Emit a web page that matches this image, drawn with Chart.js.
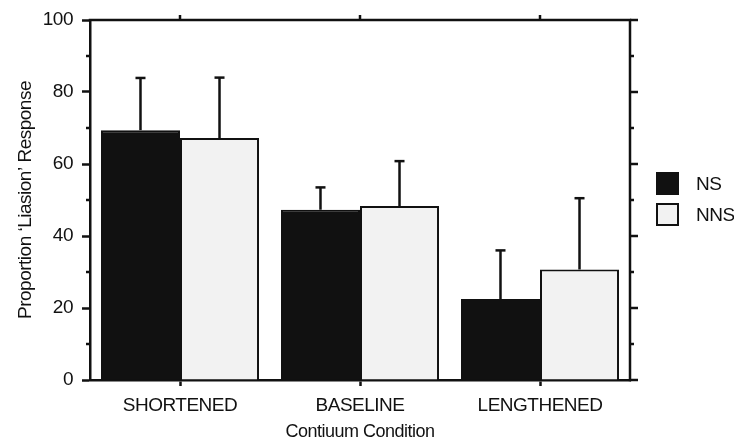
<!DOCTYPE html>
<html>
<head>
<meta charset="utf-8">
<script src="https://cdn.jsdelivr.net/npm/chart.js@4"></script>
<style>
  html, body { margin: 0; padding: 0; background: #fff; }
  #wrap { width: 734px; height: 441px; }
</style>
</head>
<body>
<div id="wrap"><canvas id="chart" width="734" height="441"></canvas></div>
<script>
// Response proportions per continuum condition, with upper error bars
const categories = ['SHORTENED', 'BASELINE', 'LENGTHENED'];
const seriesNames = ['NS', 'NNS'];
const nsValues = [69.4, 47.3, 22.5];
const nnsValues = [67.2, 48.3, 30.7];
const nsErrors = [14.5, 6.2, 13.5];
const nnsErrors = [16.8, 12.5, 19.8];
const yTicks = [0, 20, 40, 60, 80, 100];
const yMinorTicks = [10, 30, 50, 70, 90];

const ink = '#111111';
const family = "'Liberation Sans', Arial, Helvetica, sans-serif";
const fills = ['#111111', '#f2f2f2'];
const tightText = '-0.5px';

function seg(ctx, x1, y1, x2, y2) {
  ctx.beginPath();
  ctx.moveTo(x1, y1);
  ctx.lineTo(x2, y2);
  ctx.stroke();
}

// Slightly condensed lettering for all canvas text
const tightPlugin = {
  id: 'tightPlugin',
  beforeInit(chart) { chart.ctx.letterSpacing = tightText; },
  beforeDraw(chart) { chart.ctx.letterSpacing = tightText; }
};

// Error bars, closed frame, minor ticks and the side legend
const framePlugin = {
  id: 'framePlugin',
  afterDatasetsDraw(chart) {
    const { ctx, scales: { y } } = chart;
    ctx.save();
    ctx.strokeStyle = ink;
    ctx.lineWidth = 2.5;
    chart.data.datasets.forEach((ds, di) => {
      const meta = chart.getDatasetMeta(di);
      meta.data.forEach((bar, i) => {
        const yTop = y.getPixelForValue(ds.data[i] + ds.errors[i]);
        seg(ctx, bar.x, bar.y, bar.x, yTop);
        seg(ctx, bar.x - 5, yTop, bar.x + 5, yTop);
      });
    });
    ctx.restore();
  },
  afterDraw(chart) {
    const { ctx, chartArea: { left, right, top, bottom }, scales: { x, y } } = chart;
    ctx.save();
    ctx.strokeStyle = ink;
    ctx.lineWidth = 2.5;
    ctx.lineCap = 'butt';
    // top and right sides of the frame
    ctx.beginPath();
    ctx.moveTo(left - 1.25, top);
    ctx.lineTo(right, top);
    ctx.lineTo(right, bottom + 1.25);
    ctx.stroke();
    yTicks.forEach(v => {
      const py = y.getPixelForValue(v);
      seg(ctx, right, py, right + 8, py);
    });
    yMinorTicks.forEach(v => {
      const py = y.getPixelForValue(v);
      seg(ctx, left - 4, py, left, py);
      seg(ctx, right, py, right + 4, py);
    });
    categories.forEach((c, i) => {
      const px = x.getPixelForValue(i);
      seg(ctx, px, top, px, top - 5);
    });

    // legend
    const midY = (top + bottom) / 2;
    const boxX = right + 26;
    const boxTops = [midY - 28, midY + 3];
    ctx.lineWidth = 2;
    ctx.font = '19px ' + family;
    ctx.textBaseline = 'middle';
    ctx.textAlign = 'left';
    chart.data.datasets.forEach((ds, di) => {
      const by = boxTops[di];
      ctx.fillStyle = ds.backgroundColor;
      ctx.fillRect(boxX, by, 23, 23);
      ctx.strokeRect(boxX + 1, by + 1, 21, 21);
      ctx.fillStyle = ink;
      ctx.fillText(ds.label, boxX + 40, by + 12.5);
    });
    ctx.restore();
  }
};

new Chart(document.getElementById('chart'), {
  type: 'bar',
  data: {
    labels: categories,
    datasets: [
      { label: seriesNames[0], data: nsValues, errors: nsErrors,
        backgroundColor: fills[0], borderColor: ink, borderWidth: 2 },
      { label: seriesNames[1], data: nnsValues, errors: nnsErrors,
        backgroundColor: fills[1], borderColor: ink, borderWidth: 2 }
    ]
  },
  options: {
    responsive: false,
    devicePixelRatio: 1,
    animation: false,
    categoryPercentage: 0.878,
    barPercentage: 1,
    layout: { padding: { top: 20, right: 104, left: 0, bottom: 0 } },
    plugins: { legend: { display: false }, tooltip: { enabled: false } },
    scales: {
      x: {
        grid: { drawOnChartArea: false, offset: false, tickLength: 6, tickWidth: 2.5, tickColor: ink },
        border: { color: ink, width: 2.5 },
        ticks: { font: { size: 19, family, lineHeight: 1 }, color: ink, padding: 10 },
        title: { display: true, text: 'Contiuum Condition', color: ink,
                 font: { size: 18, family, lineHeight: 1 }, padding: { top: 0, bottom: 0 } },
        afterFit(s) { s.height = 61; }
      },
      y: {
        min: 0,
        max: 100,
        afterBuildTicks(s) { s.ticks = yTicks.map(v => ({ value: v })); },
        grid: { drawOnChartArea: false, tickLength: 8, tickWidth: 2.5, tickColor: ink },
        border: { color: ink, width: 2.5 },
        ticks: { font: { size: 19, family, lineHeight: 1 }, color: ink, padding: 9 },
        title: { display: true, text: 'Proportion ‘Liasion’ Response', color: ink,
                 font: { size: 19, family, lineHeight: 1 }, padding: { top: 16, bottom: 0 } },
        afterFit(s) { s.width = 90; }
      }
    }
  },
  plugins: [tightPlugin, framePlugin]
});
</script>
</body>
</html>
